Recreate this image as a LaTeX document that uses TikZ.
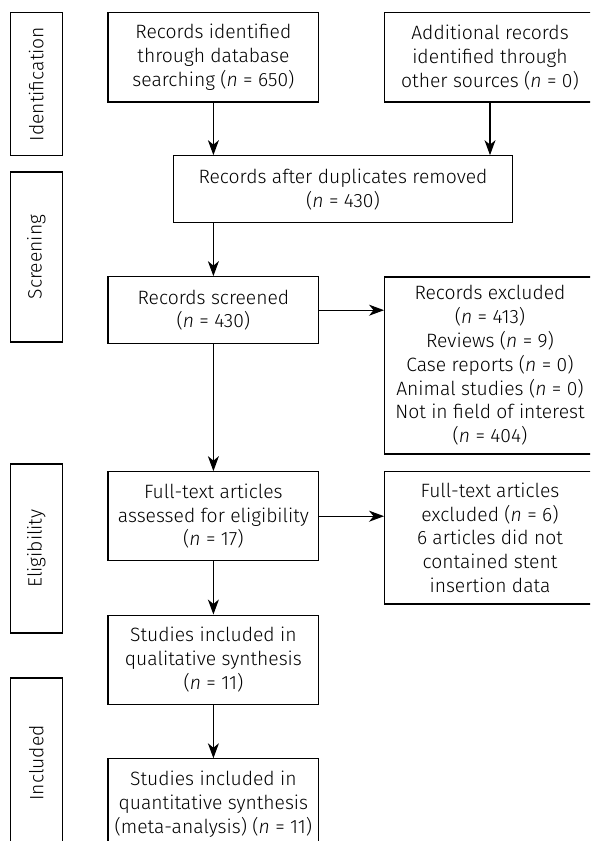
\documentclass[tikz,border=0pt]{standalone}
\usepackage{fontspec}
\setmainfont{Fira Sans Light}
\usetikzlibrary{arrows.meta}
\newcommand{\varn}{\textit{n}}
\begin{document}
\begin{tikzpicture}[x=1pt,y=-1pt,
  txt/.style={font=\fontsize{19.3}{23.8}\selectfont},
  box/.style={txt, draw, line width=1.1pt, align=center, minimum width=210.8pt, inner sep=1pt},
  lab/.style={draw, line width=1.1pt, minimum width=51.5pt},
  labtext/.style={txt, rotate=90},
  arr/.style={line width=1.1pt, -{Stealth[length=15pt,width=11pt,inset=4.5pt]}}]
\clip (0,0) rectangle (590,841);
\fill[white] (0,0) rectangle (590,841);
% stage labels
\node[lab, minimum height=142.3pt] (l1) at (36.3,84) {};
\node[labtext] (t1) at (l1.center) {Identification};
\node[lab, minimum height=170pt] (l2) at (36.3,257) {};
\node[labtext] (t2) at (l2.center) {Screening};
\node[lab, minimum height=169pt] (l3) at (36.3,548.5) {};
\node[labtext] (t3) at (l3.center) {Eligibility};
\node[lab, minimum height=170pt] (l4) at (36.3,763) {};
\node[labtext] (t4) at (l4.center) {Included};
% boxes
\node[box, minimum height=89.3pt] (b1) at (213.4,57.3) {Records identified\\through database\\searching (\varn{} = 650)};
\node[box, minimum height=89.3pt] (b2) at (490,57.3) {Additional records\\identified through\\other sources (\varn{} = 0)};
\node[box, minimum width=339.1pt, minimum height=67pt] (b3) at (343,189.2) {Records after duplicates removed\\(\varn{} = 430)};
\node[box, minimum height=67pt] (b4) at (213.4,310.2) {Records screened\\(\varn{} = 430)};
\node[box, minimum height=177pt] (b5) at (490,365.5) {Records excluded\\(\varn{} = 413)\\Reviews (\varn{} = 9)\\Case reports (\varn{} = 0)\\Animal studies (\varn{} = 0)\\Not in field of interest\\(\varn{} = 404)};
\node[box, minimum height=89pt] (b6) at (213.4,516.2) {Full-text articles\\assessed for eligibility\\(\varn{} = 17)};
\node[box, minimum height=132.3pt] (b7) at (490,537.8) {Full-text articles\\excluded (\varn{} = 6)\\6 articles did not\\contained stent\\insertion data};
\node[box, minimum height=89.3pt] (b8) at (213.4,659.7) {Studies included in\\qualitative synthesis\\(\varn{} = 11)};
\node[box, minimum height=91pt] (b9) at (213.4,804.3) {Studies included in\\quantitative synthesis\\(meta-analysis) (\varn{} = 11)};
% arrows
\draw[arr] (b1.south) -- (b1.south |- b3.north);
\draw[arr] (b2.south) -- (b2.south |- b3.north);
\draw[arr] (b4.north |- b3.south) -- (b4.north);
\draw[arr] (b4.east) -- (b4.east -| b5.west);
\draw[arr] (b4.south) -- (b6.north);
\draw[arr] (b6.east) -- (b6.east -| b7.west);
\draw[arr] (b6.south) -- (b8.north);
\draw[arr] (b8.south) -- (b9.north);
\end{tikzpicture}
\end{document}
